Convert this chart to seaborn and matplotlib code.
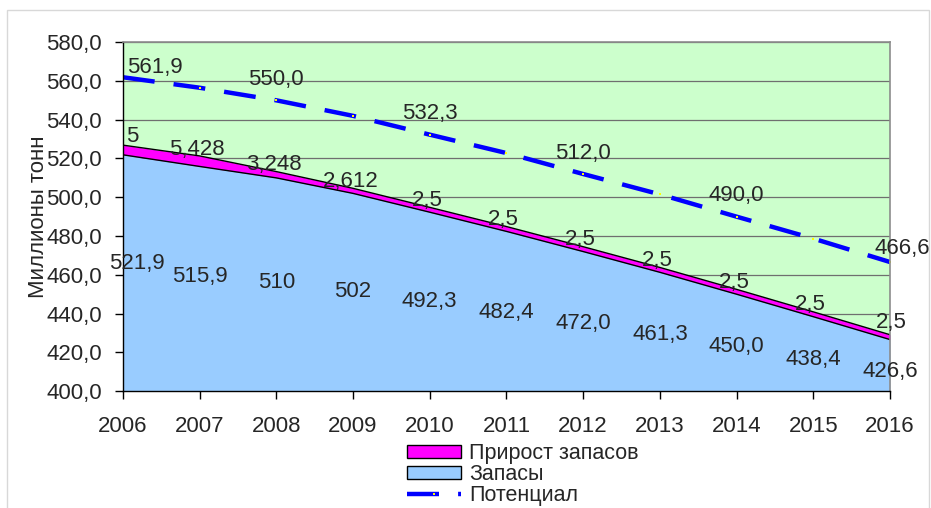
import numpy as np
import pandas as pd
import seaborn as sns
import matplotlib.pyplot as plt
from matplotlib.patches import Patch, Rectangle
from matplotlib.lines import Line2D
from matplotlib.ticker import FuncFormatter

# данные
years = [2006, 2007, 2008, 2009, 2010, 2011, 2012, 2013, 2014, 2015, 2016]
zapasy = [521.9, 515.9, 510, 502, 492.3, 482.4, 472.0, 461.3, 450.0, 438.4, 426.6]
prirost = [5, 5.428, 3.248, 2.612, 2.5, 2.5, 2.5, 2.5, 2.5, 2.5, 2.5]
potencial = [561.9, 556.5, 550.0, 542.0, 532.3, 522.8, 512.0, 501.5, 490.0, 478.7, 466.6]

zapasy_txt = ["521,9", "515,9", "510", "502", "492,3", "482,4", "472,0", "461,3", "450,0", "438,4", "426,6"]
prirost_txt = ["5", "5,428", "3,248", "2,612", "2,5", "2,5", "2,5", "2,5", "2,5", "2,5", "2,5"]
potencial_txt = {2006: "561,9", 2008: "550,0", 2010: "532,3", 2012: "512,0", 2014: "490,0", 2016: "466,6"}

df = pd.DataFrame({"year": years, "zapasy": zapasy, "prirost": prirost, "potencial": potencial})
df["top"] = df["zapasy"] + df["prirost"]

sns.set_theme(style="white")
plt.rcParams["font.family"] = ["Liberation Sans", "DejaVu Sans"]

fig = plt.figure(figsize=(9.31, 5.08), dpi=100)
ax = fig.add_axes([0.132, 0.230, 0.824, 0.687])
ax.set_facecolor("#CCFFCC")

# рамка вокруг диаграммы
fig.patches.append(Rectangle((7 / 931, -0.01), 0.99, 1 - 10 / 508 + 0.01, transform=fig.transFigure,
                             fill=False, edgecolor="#d8d8d8", lw=1))

ymin = 400
ax.fill_between(df["year"], ymin, df["zapasy"], color="#99CCFF", zorder=2, lw=0)
ax.fill_between(df["year"], df["zapasy"], df["top"], color="#FF00FF", zorder=2, lw=0)
sns.lineplot(data=df, x="year", y="zapasy", color="black", lw=1, ax=ax, zorder=3)
sns.lineplot(data=df, x="year", y="top", color="black", lw=1, ax=ax, zorder=3)

sns.lineplot(data=df, x="year", y="potencial", color="#0000FF", lw=3.2, ax=ax, zorder=4,
             marker="s", markersize=2, markerfacecolor="yellow", markeredgecolor="yellow",
             markeredgewidth=0)
ax.lines[-1].set_dashes([7.2, 4.3])
ax.lines[-1].set_dash_capstyle("butt")

# сетка
for v in range(420, 581, 20):
    ax.axhline(v, color="#6f6f6f", lw=0.9, zorder=1)

ax.set_xlim(2006, 2016)
ax.set_ylim(400, 580)
ax.set_yticks(range(400, 581, 20))
ax.set_xticks(years)
ax.yaxis.set_major_formatter(FuncFormatter(lambda v, p: f"{v:.1f}".replace(".", ",")))
ax.tick_params(axis="both", labelsize=16, length=6, width=1, color="black", direction="out",
               left=True, bottom=True)
ax.tick_params(axis="y", pad=9)
ax.tick_params(axis="x", pad=12)
ax.set_xlabel("")
ax.set_ylabel("Миллионы тонн", fontsize=16, labelpad=-2)

for s in ["left", "bottom"]:
    ax.spines[s].set_color("black")
    ax.spines[s].set_linewidth(1)
for s in ["top", "right"]:
    ax.spines[s].set_color("#8c8c8c")
    ax.spines[s].set_linewidth(1.2)
for sp in ax.spines.values():
    sp.set_zorder(5)

# подписи данных
fs = 16
n = len(years)
for i, (yr, v, t) in enumerate(zip(years, zapasy, zapasy_txt)):
    ly = 175.3 + 0.55 * v
    dx = 10 if i == 0 else 0
    ax.annotate(t, (yr, ly), xytext=(dx, 5 if i == 0 else 0), textcoords="offset points",
                ha="center", va="center", fontsize=fs, zorder=6, annotation_clip=False)

for i, (yr, top, t) in enumerate(zip(years, df["top"], prirost_txt)):
    if i == 0:
        ax.annotate(t, (yr, top), xytext=(2, 2), textcoords="offset points",
                    ha="left", va="baseline", fontsize=fs, zorder=6, annotation_clip=False)
    elif i == n - 1:
        ax.annotate(t, (yr, top), xytext=(1, 5), textcoords="offset points",
                    ha="center", va="baseline", fontsize=fs, zorder=6, annotation_clip=False)
    else:
        ax.annotate(t, (yr, top), xytext=(-2, 1), textcoords="offset points",
                    ha="center", va="baseline", fontsize=fs, zorder=6, annotation_clip=False)

for yr, v in zip(years, potencial):
    if yr not in potencial_txt:
        continue
    t = potencial_txt[yr]
    if yr == years[0]:
        ax.annotate(t, (yr, v), xytext=(3, 7), textcoords="offset points",
                    ha="left", va="center", fontsize=fs, zorder=6, annotation_clip=False)
    elif yr == years[-1]:
        ax.annotate(t, (yr, v), xytext=(9, 10), textcoords="offset points",
                    ha="center", va="center", fontsize=fs, zorder=6, annotation_clip=False)
    else:
        ax.annotate(t, (yr, v), xytext=(0, 15), textcoords="offset points",
                    ha="center", va="center", fontsize=fs, zorder=6, annotation_clip=False)

# легенда
handles = [
    Patch(facecolor="#FF00FF", edgecolor="black", lw=1),
    Patch(facecolor="#99CCFF", edgecolor="black", lw=1),
    Line2D([], [], color="#0000FF", lw=3.2, dashes=[7.2, 4.3], marker="s", markersize=2,
           markerfacecolor="yellow", markeredgewidth=0, markevery=[1]),
]
labels = ["Прирост запасов", "Запасы", "Потенциал"]
fig.legend(handles, labels, loc="upper left", bbox_to_anchor=(407 / 931, 1 - 443 / 508),
           bbox_transform=fig.transFigure, frameon=False, fontsize=15.5, borderpad=0,
           borderaxespad=0, handlelength=2.5, handleheight=0.6, handletextpad=0.4,
           labelspacing=0.0)

plt.savefig("out.png", dpi=100)
plt.close()
